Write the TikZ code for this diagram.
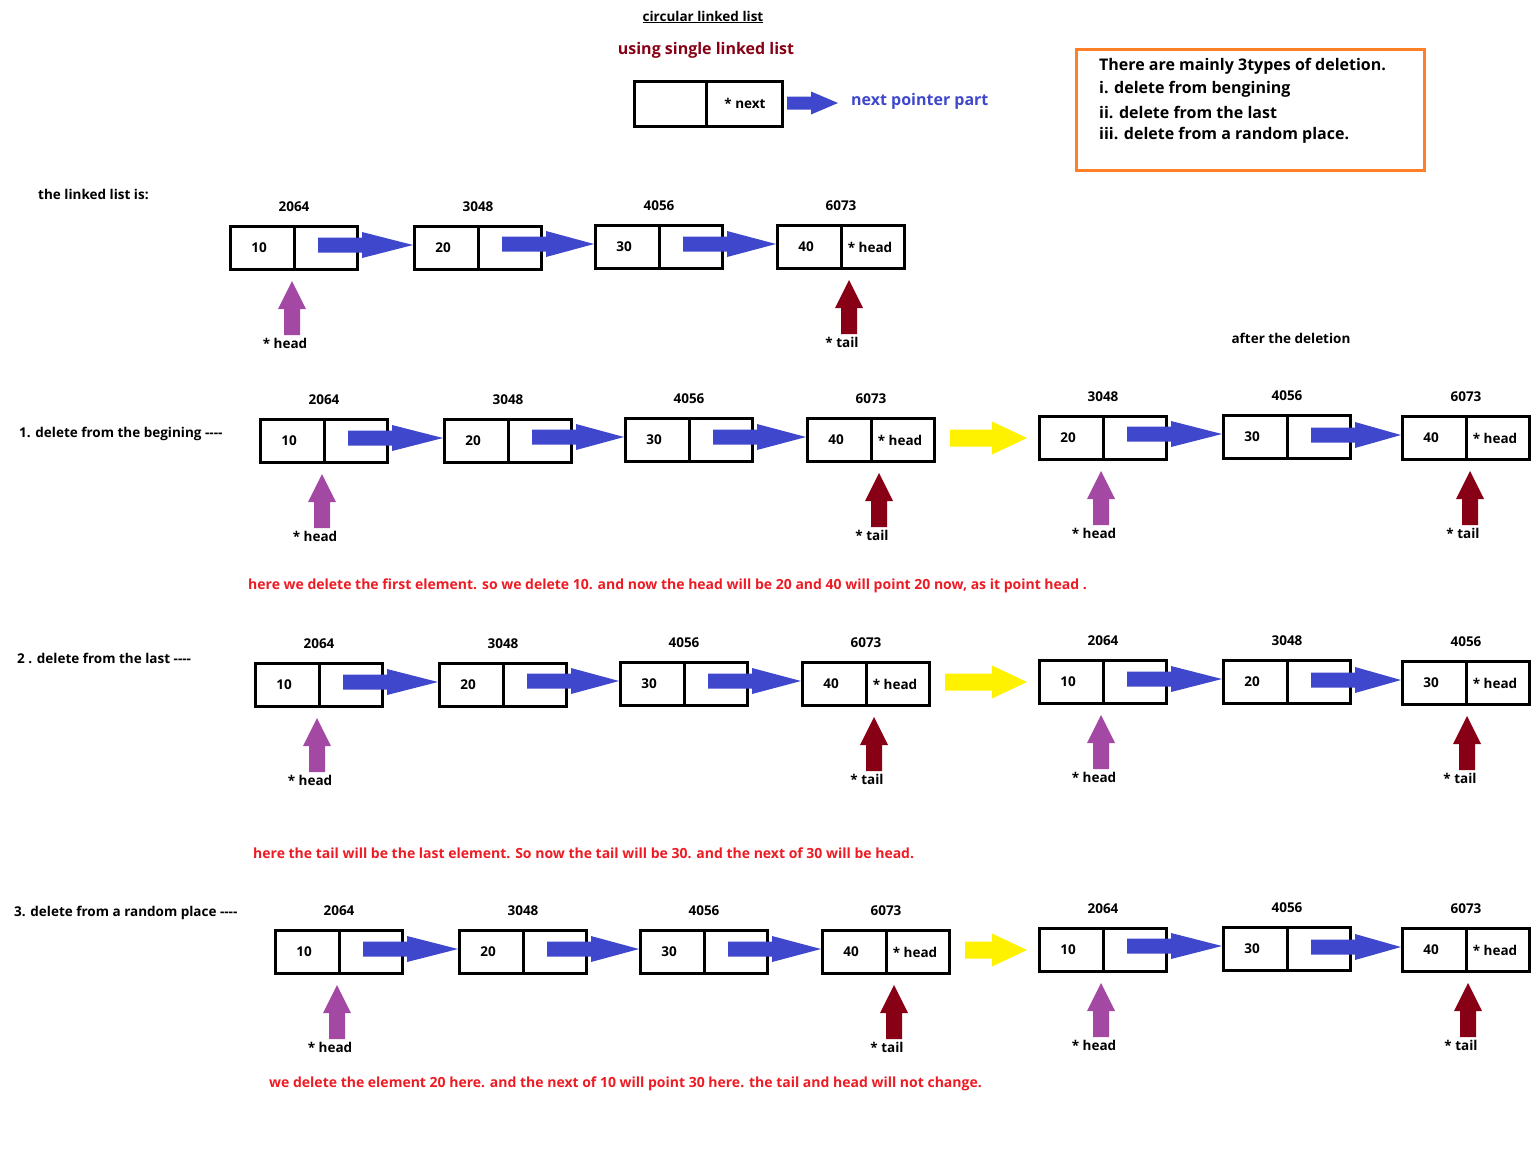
\documentclass[tikz,border=0pt]{standalone}
\usepackage{fontspec}
\setmainfont{Open Sans}
\usetikzlibrary{calc}
\definecolor{linkblue}{HTML}{3F48CC}
\definecolor{ptrpurple}{HTML}{A349A4}
\definecolor{ptrred}{HTML}{880015}
\definecolor{txtred}{HTML}{ED1C24}
\definecolor{arryellow}{HTML}{FFF200}
\definecolor{boxorange}{HTML}{FF7F27}

% list node: name, position, address, value, pointer text
\newcommand{\llnode}[5]{%
  \node[cellbox] (#1) at (#2) {};
  \draw[line width=3pt] (#1.north) -- (#1.south);
  \node[txt] (#1a) at ($(#1.north)+(0,-18)$) {#3};
  \node[txt] (#1v) at ($(#1.center)+(-35,0)$) {#4};
  \if\relax\detokenize{#5}\relax\else
    \node[txt] (#1p) at ($(#1.center)+(29,0)$) {#5};
  \fi
}
% blue block arrow from node to next node
\newcommand{\linkarr}[2]{%
  \fill[linkblue] let \p1=(#1.east), \p2=(#2.west) in
   (\x1-41pt,\y2+10.5pt) -- (\x1+3pt,\y2+10.5pt) -- (\x1+3pt,\y2+16pt) -- (\x2,\y2+3pt)
   -- (\x1+3pt,\y2-10pt) -- (\x1+3pt,\y2-4.5pt) -- (\x1-41pt,\y2-4.5pt) -- cycle;
}
% yellow block arrow between the two lists
\newcommand{\yarr}[2]{%
  \fill[arryellow] let \p1=(#1.east), \p2=(#2.west), \p3=(#1.center) in
   (\x1+14pt,\y3+10.5pt) -- (\x2-46pt,\y3+10.5pt) -- (\x2-46pt,\y3+18.5pt) -- (\x2-11pt,\y3+2pt)
   -- (\x2-46pt,\y3-14.5pt) -- (\x2-46pt,\y3-6.5pt) -- (\x1+14pt,\y3-6.5pt) -- cycle;
}
% upward pointer arrow: name, node, dx, colour, label
\newcommand{\ptrarr}[5]{%
  \coordinate (#1) at ($(#2.south)+(#3,64)$);
  \node[txt,anchor=north] (#1l) at ($(#1)+(-7,3)$) {#5};
  \fill[#4] let \p1=(#1), \p2=(#2.south) in
   (\x1-8pt,\y1) -- (\x1-8pt,\y2-38pt) -- (\x1-14pt,\y2-38pt) -- (\x1,\y2-10pt)
   -- (\x1+14pt,\y2-38pt) -- (\x1+8pt,\y2-38pt) -- (\x1+8pt,\y1) -- cycle;
}
\newcommand{\dashes}{-{}-{}-{}-}

\begin{document}
\begin{tikzpicture}[x=1pt,y=-1pt,
  cellbox/.style={draw,line width=3pt,minimum width=127pt,minimum height=43pt,inner sep=0pt},
  txt/.style={font=\bfseries\fontsize{13.5}{16}\selectfont,inner sep=0pt},
  bigtxt/.style={font=\bfseries\fontsize{16}{19}\selectfont,inner sep=0pt},
  redtxt/.style={font=\bfseries\fontsize{14}{16}\selectfont,inner sep=0pt,text=txtred,anchor=west},
  rowlabel/.style={txt,anchor=west}]
\fill[white] (0,0) rectangle (1536,1171);
\useasboundingbox (0,0) rectangle (1536,1171);

% header
\node[txt] (title) at (703,17) {\underline{circular linked list}};
\node[bigtxt,text=ptrred] (sub) at (706,50) {using single linked list};
\node[cellbox,minimum width=148pt,minimum height=45pt] (leg) at (708.5,104) {};
\draw[line width=3pt] ($(leg.north)+(-2.5,0)$) -- ($(leg.south)+(-2.5,0)$);
\node[txt] (legp) at (745,103) {* next};
\node[bigtxt,text=linkblue,anchor=west] (legt) at (851,101) {next pointer part};
\fill[linkblue] let \p1=(leg.east), \p2=(legt.west) in
   (\x1+3pt,\y1+7.5pt) -- (\x1+27pt,\y1+7.5pt) -- (\x1+27pt,\y1+12.5pt) -- (\x2-13pt,\y1+1pt)
   -- (\x1+27pt,\y1-10.5pt) -- (\x1+27pt,\y1-5.5pt) -- (\x1+3pt,\y1-5.5pt) -- cycle;

% info box
\node[draw=boxorange,line width=3pt,minimum width=348pt,minimum height=121pt,inner sep=0pt] (info) at (1250.5,110) {};
\node[bigtxt,anchor=west] (info1) at (1099,66) {There are mainly 3types of deletion.};
\node[bigtxt,anchor=west] (info2) at (1099,89) {i. delete from bengining};
\node[bigtxt,anchor=west] (info3) at (1099,112) {ii. delete from the last};
\node[bigtxt,anchor=west] (info4) at (1099,135) {iii. delete from a random place.};

% row 0
\node[rowlabel] (lab0) at (38,194) {the linked list is:};
\llnode{a1}{294,248}{2064}{10}{}
\llnode{a2}{478,248}{3048}{20}{}
\llnode{a3}{659,247}{4056}{30}{}
\llnode{a4}{841,247}{6073}{40}{* head}
\linkarr{a1}{a2}\linkarr{a2}{a3}\linkarr{a3}{a4}
\ptrarr{a1h}{a1}{-2}{ptrpurple}{* head}
\ptrarr{a4t}{a4}{8}{ptrred}{* tail}

\node[txt] (after) at (1291,338) {after the deletion};

% row 1
\node[rowlabel] (lab1) at (19,434) {1. delete from the begining \dashes};
\llnode{b1}{324,441}{2064}{10}{}
\llnode{b2}{508,441}{3048}{20}{}
\llnode{b3}{689,440}{4056}{30}{}
\llnode{b4}{871,440}{6073}{40}{* head}
\linkarr{b1}{b2}\linkarr{b2}{b3}\linkarr{b3}{b4}
\ptrarr{b1h}{b1}{-2}{ptrpurple}{* head}
\ptrarr{b4t}{b4}{8}{ptrred}{* tail}
\llnode{c1}{1103,438}{3048}{20}{}
\llnode{c2}{1287,437}{4056}{30}{}
\llnode{c3}{1466,438}{6073}{40}{* head}
\linkarr{c1}{c2}\linkarr{c2}{c3}
\ptrarr{c1h}{c1}{-2}{ptrpurple}{* head}
\ptrarr{c3t}{c3}{4}{ptrred}{* tail}
\yarr{b4}{c1}
\node[redtxt] (note1) at (248,586) {here we delete the first element. so we delete 10. and now the head will be 20 and 40 will point 20 now, as it point head .};

% row 2
\node[rowlabel] (lab2) at (17,658) {2 . delete from the last \dashes};
\llnode{d1}{319,685}{2064}{10}{}
\llnode{d2}{503,685}{3048}{20}{}
\llnode{d3}{684,684}{4056}{30}{}
\llnode{d4}{866,684}{6073}{40}{* head}
\linkarr{d1}{d2}\linkarr{d2}{d3}\linkarr{d3}{d4}
\ptrarr{d1h}{d1}{-2}{ptrpurple}{* head}
\ptrarr{d4t}{d4}{8}{ptrred}{* tail}
\llnode{e1}{1103,682}{2064}{10}{}
\llnode{e2}{1287,682}{3048}{20}{}
\llnode{e3}{1466,683}{4056}{30}{* head}
\linkarr{e1}{e2}\linkarr{e2}{e3}
\ptrarr{e1h}{e1}{-2}{ptrpurple}{* head}
\ptrarr{e3t}{e3}{1}{ptrred}{* tail}
\yarr{d4}{e1}
\node[redtxt] (note2) at (253,853) {here the tail will be the last element. So now the tail will be 30. and the next of 30 will be head.};

% row 3
\node[rowlabel] (lab3) at (14,913) {3. delete from a random place \dashes};
\llnode{f1}{339,952}{2064}{10}{}
\llnode{f2}{523,952}{3048}{20}{}
\llnode{f3}{704,952}{4056}{30}{}
\llnode{f4}{886,952}{6073}{40}{* head}
\linkarr{f1}{f2}\linkarr{f2}{f3}\linkarr{f3}{f4}
\ptrarr{f1h}{f1}{-2}{ptrpurple}{* head}
\ptrarr{f4t}{f4}{8}{ptrred}{* tail}
\llnode{g1}{1103,950}{2064}{10}{}
\llnode{g2}{1287,949}{4056}{30}{}
\llnode{g3}{1466,950}{6073}{40}{* head}
\linkarr{g1}{g2}\linkarr{g2}{g3}
\ptrarr{g1h}{g1}{-2}{ptrpurple}{* head}
\ptrarr{g3t}{g3}{2}{ptrred}{* tail}
\yarr{f4}{g1}
\node[redtxt] (note3) at (269,1084) {we delete the element 20 here. and the next of 10 will point 30 here. the tail and head will not change.};
\end{tikzpicture}
\end{document}
